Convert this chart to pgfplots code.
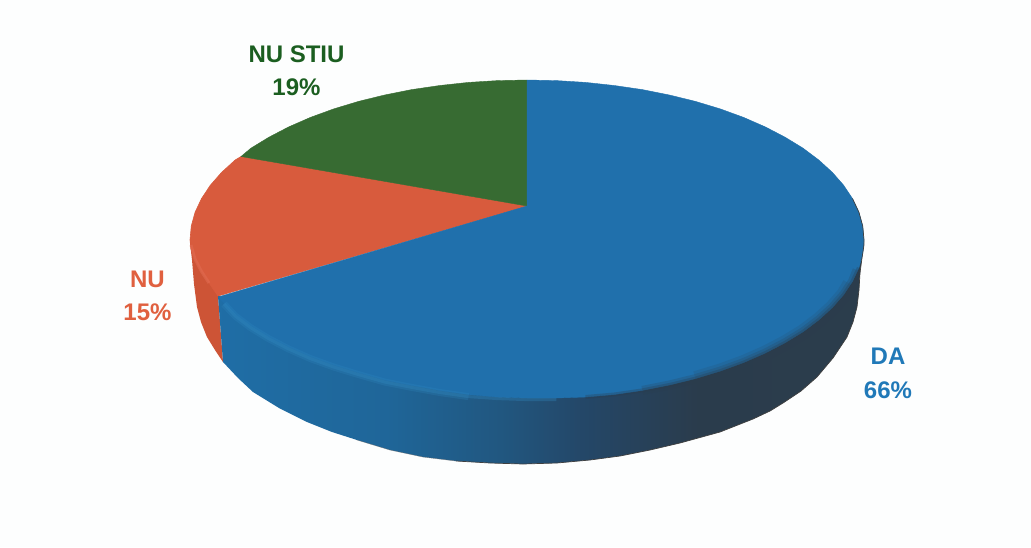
\documentclass[border=0pt]{standalone}
\usepackage{fontspec}
\setmainfont{Liberation Sans}
\usepackage{pgfplots}
\pgfplotsset{compat=1.18}
\definecolor{pageback}{RGB}{253,254,254}
\definecolor{topblue}{RGB}{32,112,172}
\definecolor{rimblue}{RGB}{50,140,196}
\definecolor{topgreen}{RGB}{55,107,50}
\definecolor{toporange}{RGB}{216,91,61}
\definecolor{sideorange}{RGB}{205,84,54}
\definecolor{rimorange}{RGB}{226,110,85}
\definecolor{darkside}{RGB}{43,60,76}
\definecolor{labgreen}{RGB}{27,94,32}
\definecolor{laborange}{RGB}{224,96,63}
\definecolor{labblue}{RGB}{32,121,184}
\tikzset{lab/.style={anchor=base,font=\fontsize{24}{28}\selectfont\bfseries}}
% bounding box of the path runs from 25bp to 75bp
\pgfdeclarehorizontalshading{sideblue}{100bp}{
  rgb(0bp)=(0.12,0.43,0.65);
  rgb(25bp)=(0.12,0.43,0.65);
  rgb(38bp)=(0.12,0.40,0.60);
  rgb(47bp)=(0.13,0.34,0.50);
  rgb(53bp)=(0.14,0.28,0.41);
  rgb(62bp)=(0.165,0.235,0.30);
  rgb(75bp)=(0.17,0.24,0.30);
  rgb(100bp)=(0.17,0.24,0.30)}
\begin{document}
\begin{tikzpicture}
\begin{axis}[
  width=1031pt, height=547pt,
  scale only axis,
  xmin=0, xmax=1031,
  ymin=0, ymax=547,
  y dir=reverse,
  hide axis,
  clip=false,
  no marks,
  every axis plot/.append style={line join=round}
]
% page background, hide axis drops the axis background
\addplot[fill=pageback,draw=none] coordinates {(0,0) (1031,0) (1031,547) (0,547)} -- cycle;
% side wall, NU slice
\addplot[fill=sideorange,draw=none] coordinates {
  (190,240) (218,296) (223,362) (215,350) (207,337) (201,322) (197,307)
  (194,284) (192,260) (190,243)} -- cycle;
% side wall, DA slice
\addplot[draw=none,shade,shading=sideblue] coordinates {
  (864,240) (700,300) (527,340) (218,296) (223,362) (238,378) (253,392) (279,408)
  (307,422) (332,432) (357,440) (390,450) (423,457) (456,461) (490,463)
  (523,464) (557,463) (590,460) (620,456) (650,450) (680,443) (720,432)
  (753,419) (770,411) (783,403) (801,391) (817,377) (833,358) (847,337)
  (853,322) (857,307) (859,290) (860,273) (862,258) (864,245)} -- cycle;
% top face, NU 15%
\addplot[fill=toporange,draw=toporange,line width=0.6pt] coordinates {
  (527,206) (241,156.5) (235.2,160) (221.6,172.4) (210.3,185.3) (201.5,198.6)
  (195.1,212.2) (191.3,226) (190,240) (191,249) (195,259) (201.5,271.5)
  (209,283) (218,296)} -- cycle;
% top face, NU STIU 19%
\addplot[fill=topgreen,draw=topgreen,line width=0.4pt] coordinates {
  (527,206) (527,80) (497.6,80.6) (468.5,82.4) (439.8,85.5) (411.7,89.6)
  (384.6,95) (358.5,101.4) (333.7,108.9) (310.4,117.4) (288.7,126.9)
  (268.9,137.2) (250.9,148.2) (241,156.5)} -- cycle;
% top face, DA 66%
\addplot[fill=topblue,draw=topblue,line width=0.4pt] coordinates {
  (527,206) (527,80) (556.4,80.6) (585.5,82.4) (614.2,85.5) (642.3,89.6)
  (669.4,95) (695.5,101.4) (720.3,108.9) (743.6,117.4) (765.3,126.9)
  (785.1,137.2) (803.1,148.2) (818.8,160) (832.4,172.4) (843.7,185.3)
  (852.5,198.6) (858.9,212.2) (862.7,226) (864,240) (862.7,254) (858.9,267.8)
  (852.5,281.4) (843.7,294.7) (832.4,307.6) (818.8,320) (803.1,331.8)
  (785.1,342.8) (765.3,353.1) (743.6,362.6) (720.3,371.1) (695.5,378.6)
  (669.4,385) (642.3,390.4) (614.2,394.5) (585.5,397) (556.4,398) (527,398)
  (497.6,397) (468.5,394.6) (439.8,390.5) (411.7,385.4) (384.6,380)
  (358.5,372.6) (333.7,365) (310.4,356.6) (288.7,347) (268.9,336.8)
  (250.9,325.8) (235.2,314) (221.6,301) (218,297)} -- cycle;
% soft light along the rim
\addplot[rimorange,line width=3pt,opacity=0.5] coordinates {
  (191,245) (195,259) (201.5,271.5) (209,283)};
\addplot[rimblue,line width=7pt,opacity=0.22] coordinates {
  (224,304) (235.2,316) (250.9,327.8) (268.9,338.8) (288.7,349) (310.4,358.6)
  (333.7,367) (358.5,374.6) (384.6,382) (411.7,387.4) (439.8,392.5) (468.5,396.6)};
\addplot[rimblue,line width=3pt,opacity=0.3] coordinates {
  (224,304) (235.2,316) (250.9,327.8) (268.9,338.8) (288.7,349) (310.4,358.6)
  (333.7,367) (358.5,374.6) (384.6,382) (411.7,387.4) (439.8,392.5)
  (468.5,396.6) (497.6,398.6) (527,399.6) (556.4,399.6)};
% soft shadow where the right rim meets the wall
\addplot[darkside,line width=15pt,opacity=0.13] coordinates {
  (695.5,378.6) (720.3,371.1) (743.6,362.6) (765.3,353.1) (785.1,342.8)
  (803.1,331.8) (818.8,320) (832.4,307.6) (843.7,294.7) (850,284)};
\addplot[darkside,line width=9pt,opacity=0.2] coordinates {
  (642.3,390.4) (669.4,385) (695.5,378.6) (720.3,371.1) (743.6,362.6)
  (765.3,353.1) (785.1,342.8) (803.1,331.8) (818.8,320) (832.4,307.6)
  (843.7,294.7) (852.5,281.4) (857,270)};
\addplot[darkside,line width=4pt,opacity=0.3] coordinates {
  (585.5,397) (614.2,394.5) (642.3,390.4) (669.4,385) (695.5,378.6)
  (720.3,371.1) (743.6,362.6) (765.3,353.1) (785.1,342.8) (803.1,331.8)
  (818.8,320) (832.4,307.6) (843.7,294.7) (852.5,281.4) (858.9,267.8)};
% thin dark edge
\addplot[black!60,line width=0.5pt,opacity=0.6] coordinates {
  (357,440) (390,450) (423,457) (456,461)};
\addplot[black!75,line width=0.7pt] coordinates {
  (456,461) (490,463) (523,464) (557,463) (590,460) (620,456) (650,450) (680,443)
  (720,432) (753,419) (770,411) (783,403) (801,391) (817,377) (833,358) (847,337)
  (853,322) (857,307) (859,290) (860,273) (862,258) (864,245) (864,240)
  (862.7,226) (858.9,212.2) (852.5,198.6)};
% labels
\node[lab,text=labgreen] at (axis cs:296.5,62) {NU STIU};
\node[lab,text=labgreen] at (axis cs:296.5,95) {19\%};
\node[lab,text=laborange] at (axis cs:147.5,287) {NU};
\node[lab,text=laborange] at (axis cs:147.5,320) {15\%};
\node[lab,text=labblue] at (axis cs:888,364) {DA};
\node[lab,text=labblue] at (axis cs:888,398) {66\%};
\end{axis}
\end{tikzpicture}
\end{document}
